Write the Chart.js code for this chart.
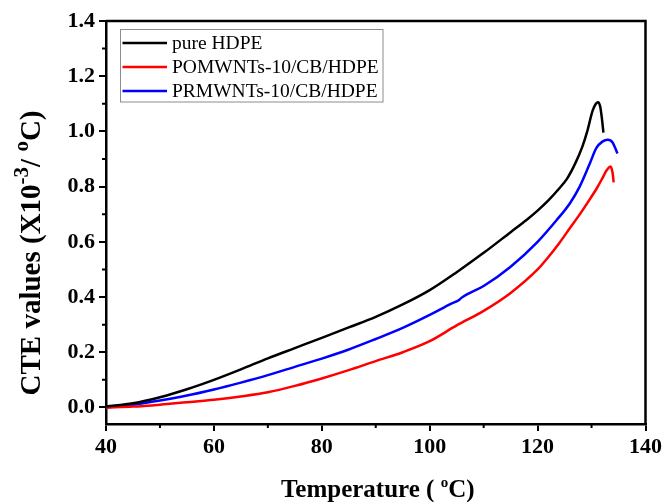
<!DOCTYPE html>
<html>
<head>
<meta charset="utf-8">
<script src="https://cdn.jsdelivr.net/npm/chart.js@4/dist/chart.umd.min.js"></script>
<style>
  html, body { margin: 0; padding: 0; background: #fff; }
  #wrap { width: 665px; height: 502px; position: relative; }
</style>
</head>
<body>
<div id="wrap"><canvas id="cte"></canvas></div>
<script>
// Series names
const seriesNames = ['pure HDPE', 'POMWNTs-10/CB/HDPE', 'PRMWNTs-10/CB/HDPE'];

// Pure HDPE: temperature (°C) and CTE (x10^-3 / °C)
const hdpeTemp = [40, 45, 50, 55, 60, 65, 70, 75, 80, 85, 90, 95, 100, 105, 110, 115, 118, 120, 122, 124, 125.5, 127, 128.3, 129.2, 130.2, 130.8, 131.2, 131.6, 131.9, 132.2];
const hdpeCte  = [0.003, 0.015, 0.037, 0.066, 0.1, 0.138, 0.178, 0.215, 0.252, 0.29, 0.328, 0.373, 0.425, 0.49, 0.56, 0.635, 0.68, 0.713, 0.75, 0.793, 0.83, 0.885, 0.945, 1.0, 1.075, 1.1, 1.106, 1.09, 1.05, 0.996];

// POMWNTs-10/CB/HDPE
const pomTemp = [40, 45, 50, 55, 60, 65, 70, 75, 80, 85, 90, 95, 100, 105, 110, 115, 120, 122, 124, 126, 128, 129.6, 131, 132, 132.8, 133.5, 133.9, 134.1];
const pomCte  = [0, 0.003, 0.01, 0.019, 0.028, 0.04, 0.055, 0.078, 0.105, 0.135, 0.168, 0.2, 0.24, 0.297, 0.35, 0.415, 0.5, 0.545, 0.595, 0.65, 0.705, 0.752, 0.795, 0.83, 0.859, 0.873, 0.85, 0.815];

// PRMWNTs-10/CB/HDPE
const prmTemp = [40, 45, 50, 55, 60, 65, 70, 75, 80, 85, 90, 95, 100, 104, 105.5, 105.8, 110, 115, 120, 123.5, 126, 127.8, 129.6, 130.9, 132, 133, 133.9, 134.8];
const prmCte  = [0, 0.01, 0.025, 0.043, 0.065, 0.09, 0.117, 0.147, 0.177, 0.21, 0.248, 0.288, 0.335, 0.376, 0.39, 0.396, 0.44, 0.51, 0.6, 0.678, 0.74, 0.80, 0.88, 0.94, 0.963, 0.97, 0.96, 0.92];

// Axis ticks
const xTicks = [40, 60, 80, 100, 120, 140];
const xMinorTicks = [50, 70, 90, 110, 130];
const yTicks = [0.0, 0.2, 0.4, 0.6, 0.8, 1.0, 1.2, 1.4];
const yMinorTicks = [0.1, 0.3, 0.5, 0.7, 0.9, 1.1, 1.3];

const serif = "'Liberation Serif', 'Times New Roman', serif";
const ink = '#000';

const toPoints = (xs, ys) => xs.map((x, i) => ({ x, y: ys[i] }));

// Text with superscript runs, centred horizontally on the origin, baseline at 0
function drawRich(ctx, parts, size, supRatio) {
  const supSize = Math.round(size * supRatio);
  const fontFor = p => `bold ${p.sup ? supSize : size}px ${serif}`;
  const widths = parts.map(p => { ctx.font = fontFor(p); return ctx.measureText(p.t).width; });
  const total = widths.reduce((a, b) => a + b, 0);
  let x = -total / 2;
  ctx.textAlign = 'left';
  ctx.textBaseline = 'alphabetic';
  parts.forEach((p, i) => {
    ctx.font = fontFor(p);
    ctx.fillText(p.t, x, p.sup ? -size * 0.4 : 0);
    x += widths[i];
  });
}

const decorations = {
  id: 'decorations',
  afterDraw(chart) {
    const { ctx, chartArea: a, scales } = chart;
    ctx.save();
    ctx.strokeStyle = ink;
    ctx.fillStyle = ink;

    // top and right edges of the frame
    ctx.lineWidth = 2.5;
    ctx.beginPath();
    ctx.moveTo(a.left, a.top); ctx.lineTo(a.right, a.top); ctx.lineTo(a.right, a.bottom);
    ctx.stroke();

    // minor ticks
    ctx.lineWidth = 2;
    ctx.beginPath();
    xMinorTicks.forEach(v => {
      const px = scales.x.getPixelForValue(v);
      ctx.moveTo(px, a.bottom); ctx.lineTo(px, a.bottom + 4);
    });
    yMinorTicks.forEach(v => {
      const py = scales.y.getPixelForValue(v);
      ctx.moveTo(a.left, py); ctx.lineTo(a.left - 4, py);
    });
    ctx.stroke();

    // axis titles
    ctx.save();
    ctx.translate((a.left + a.right) / 2 + 2, 497);
    drawRich(ctx, [{ t: 'Temperature ( ' }, { t: 'o', sup: true }, { t: 'C)' }], 25, 0.6);
    ctx.restore();

    ctx.save();
    ctx.translate(39.5, 253);
    ctx.rotate(-Math.PI / 2);
    drawRich(ctx, [{ t: 'CTE values (X10' }, { t: '-3', sup: true }, { t: '/ ' }, { t: 'o', sup: true }, { t: 'C)' }], 29, 0.72);
    ctx.restore();

    // legend
    ctx.lineWidth = 1;
    ctx.strokeStyle = '#8c8c8c';
    ctx.strokeRect(120.5, 29.5, 262.5, 72.5);
    ctx.font = `19.5px ${serif}`;
    ctx.textAlign = 'left';
    ctx.textBaseline = 'middle';
    chart.data.datasets.forEach((ds, i) => {
      const y = 43 + i * 24;
      ctx.strokeStyle = ds.borderColor;
      ctx.lineWidth = 2.5;
      ctx.beginPath();
      ctx.moveTo(122.5, y); ctx.lineTo(167, y);
      ctx.stroke();
      ctx.fillStyle = ink;
      ctx.fillText(ds.label, 172, y + 1);
    });
    ctx.restore();
  }
};

const tickFont = { family: serif, size: 22, weight: 'bold' };

new Chart(document.getElementById('cte'), {
  type: 'line',
  data: {
    datasets: [
      { label: seriesNames[0], data: toPoints(hdpeTemp, hdpeCte), borderColor: '#000000' },
      { label: seriesNames[1], data: toPoints(pomTemp, pomCte), borderColor: '#ff0000' },
      { label: seriesNames[2], data: toPoints(prmTemp, prmCte), borderColor: '#0000ff' }
    ]
  },
  options: {
    responsive: true,
    maintainAspectRatio: false,
    animation: false,
    layout: { padding: { top: 21, right: 19, left: 0, bottom: 0 } },
    elements: {
      point: { radius: 0 },
      line: { borderWidth: 2.5, cubicInterpolationMode: 'monotone', fill: false }
    },
    plugins: { legend: { display: false }, tooltip: { enabled: false } },
    scales: {
      x: {
        type: 'linear',
        min: 40, max: 140,
        afterFit(s) { s.height = 78; },
        afterBuildTicks(s) { s.ticks = xTicks.map(v => ({ value: v })); },
        grid: { drawOnChartArea: false, drawTicks: true, tickLength: 7, color: ink, lineWidth: 2 },
        border: { display: true, color: ink, width: 2.5 },
        ticks: { font: tickFont, color: ink, padding: 3, maxRotation: 0, autoSkip: false,
                 callback: v => String(v) }
      },
      y: {
        type: 'linear',
        min: -0.06, max: 1.4,
        afterFit(s) { s.width = 106; },
        afterBuildTicks(s) { s.ticks = yTicks.map(v => ({ value: v })); },
        grid: { drawOnChartArea: false, drawTicks: true, tickLength: 7, color: ink, lineWidth: 2 },
        border: { display: true, color: ink, width: 2.5 },
        ticks: { font: tickFont, color: ink, padding: 4, autoSkip: false,
                 callback: v => Number(v).toFixed(1) }
      }
    }
  },
  plugins: [decorations]
});
</script>
</body>
</html>
